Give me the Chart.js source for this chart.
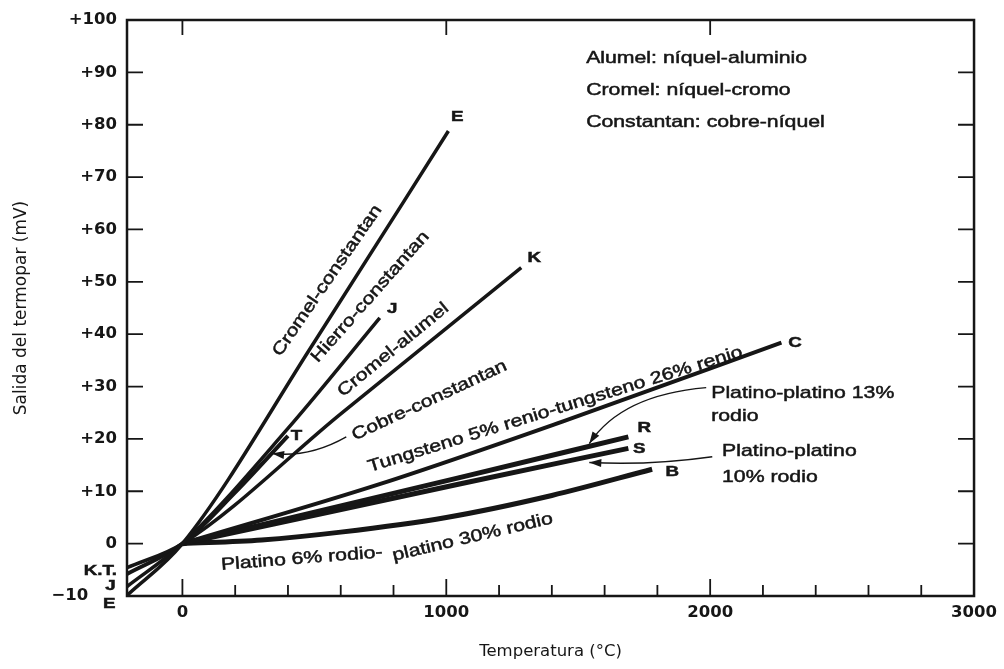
<!DOCTYPE html>
<html>
<head>
<meta charset="utf-8">
<title>Salida de termopares</title>
<script src="https://cdn.jsdelivr.net/npm/chart.js@4.4.1/dist/chart.umd.min.js"></script>
<style>
  html, body { margin: 0; padding: 0; background: #fff; }
  #box { width: 1004px; height: 669px; }
</style>
</head>
<body>
<div id="box"><canvas id="termoparChart" width="1004" height="669"></canvas></div>
<script>
// temperature (°C) and output (mV), one pair per thermocouple
const tempE = [-210, 0, 500, 1008];
const mvE   = [-9.9, 0, 38.5, 78.8];
const tempJ = [-210, 0, 400, 748];
const mvJ   = [-8.2, 0, 22.0, 43.1];
const tempK = [-210, 0, 600, 1284];
const mvK   = [-4.6, 0, 24.8, 52.7];
const tempT = [-210, 0, 200, 400];
const mvT   = [-5.8, 0, 9.8, 20.6];
const tempC = [0, 750, 1440, 2270];
const mvC   = [0, 11.4, 23.3, 38.4];
const tempR = [0, 1050, 1690];
const mvR   = [0, 12.6, 20.4];
const tempS = [0, 1050, 1690];
const mvS   = [0, 11.4, 18.2];
const tempB = [0, 300, 600, 1000, 1400, 1780];
const mvB   = [0, 0.7, 2.2, 5.0, 9.2, 14.2];

const xLabelTicks = [0, 1000, 2000, 3000];

const ink = '#161616';
const stretch = 1.25;   // the book's typeface is wider than Arial
const plainFont = "17px 'Liberation Sans', Arial, sans-serif";
const boldFont = "bold 15px 'Liberation Sans', Arial, sans-serif";

// text on the plot, placed in data units
const notes = [
    { text: 'E', x: 1042, y: 81.5, bold: true },
    { text: 'J', x: 795, y: 44.8, bold: true },
    { text: 'K', x: 1333, y: 54.6, bold: true },
    { text: 'C', x: 2322, y: 38.4, bold: true },
    { text: 'T', x: 432, y: 20.6, bold: true },
    { text: 'R', x: 1750, y: 22.1, bold: true },
    { text: 'S', x: 1731, y: 18.1, bold: true },
    { text: 'B', x: 1856, y: 13.7, bold: true },
    { text: 'K.T.', x: -311, y: -5.2, bold: true },
    { text: 'J', x: -273, y: -8.0, bold: true },
    { text: 'E', x: -277, y: -11.5, bold: true },
    { text: 'Cromel-constantan', x: 549, y: 50.2, angle: -55.4 },
    { text: 'Hierro-constantan', x: 712, y: 47.1, angle: -48.5 },
    { text: 'Cromel-alumel', x: 799, y: 37.0, angle: -39.3 },
    { text: 'Cobre-constantan', x: 936, y: 27.3, angle: -24.9 },
    { text: 'Tungsteno 5% renio-tungsteno 26% renio', x: 1413, y: 25.6, angle: -17.2 },
    { text: 'Platino 6% rodio-', x: 452, y: -2.9, angle: -4.5 },
    { text: 'platino 30% rodio', x: 1100, y: 1.2, angle: -13.3 },
    { text: 'Alumel: níquel-aluminio', x: 1530, y: 92.7, align: 'left' },
    { text: 'Cromel: níquel-cromo', x: 1530, y: 86.6, align: 'left' },
    { text: 'Constantan: cobre-níquel', x: 1530, y: 80.5, align: 'left' },
    { text: 'Platino-platino 13%', x: 2004, y: 28.8, align: 'left' },
    { text: 'rodio', x: 2004, y: 24.4, align: 'left' },
    { text: 'Platino-platino', x: 2045, y: 17.6, align: 'left' },
    { text: '10% rodio', x: 2045, y: 12.6, align: 'left' }
];

// leader arrows: start, control, tip (data units)
const leaders = [
    [[621, 20.4], [481, 16.4], [340, 17.2]],
    [[1985, 29.8], [1663, 28.4], [1542, 19.1]],
    [[2008, 16.6], [1769, 14.9], [1542, 15.5]]
];

function pts(xs, ys) {
    return xs.map((v, i) => ({ x: v, y: ys[i] }));
}

function curve(data, width) {
    return {
        data: data,
        borderColor: ink,
        borderWidth: width,
        pointRadius: 0,
        cubicInterpolationMode: 'monotone',
        borderCapStyle: 'butt'
    };
}

function drawText(ctx, text, px, py, angle, font, align) {
    ctx.save();
    ctx.translate(px, py);
    ctx.rotate(angle * Math.PI / 180);
    ctx.scale(stretch, 1);
    ctx.font = font;
    ctx.textAlign = align || 'center';
    ctx.textBaseline = 'middle';
    ctx.lineWidth = 0.5;
    ctx.fillText(text, 0, 0);
    ctx.strokeText(text, 0, 0);
    ctx.restore();
}

const decor = {
    id: 'decor',
    afterDatasetsDraw(chart) {
        const { ctx, chartArea: a, scales: { x, y } } = chart;
        ctx.save();
        ctx.strokeStyle = ink;
        ctx.fillStyle = ink;

        // frame
        ctx.lineWidth = 2.5;
        ctx.strokeRect(a.left, a.top, a.right - a.left, a.bottom - a.top);

        // tick marks pointing inwards
        ctx.lineWidth = 1.8;
        ctx.beginPath();
        for (let v = 0; v < 100; v += 10) {
            const py = y.getPixelForValue(v);
            ctx.moveTo(a.left, py); ctx.lineTo(a.left + 16, py);
            ctx.moveTo(a.right, py); ctx.lineTo(a.right - 16, py);
        }
        for (let v = 0; v < 3000; v += 200) {
            const px = x.getPixelForValue(v);
            const len = v % 1000 === 0 ? 17 : 11;
            ctx.moveTo(px, a.bottom); ctx.lineTo(px, a.bottom - len);
        }
        [0, 1000, 2000].forEach(v => {
            const px = x.getPixelForValue(v);
            ctx.moveTo(px, a.top); ctx.lineTo(px, a.top + 15);
        });
        ctx.stroke();

        notes.forEach(n => {
            drawText(ctx, n.text, x.getPixelForValue(n.x), y.getPixelForValue(n.y),
                n.angle || 0, n.bold ? boldFont : plainFont, n.align);
        });

        // curved leaders with arrow heads
        ctx.lineWidth = 1.4;
        leaders.forEach(l => {
            const p = l.map(q => [x.getPixelForValue(q[0]), y.getPixelForValue(q[1])]);
            ctx.beginPath();
            ctx.moveTo(p[0][0], p[0][1]);
            ctx.quadraticCurveTo(p[1][0], p[1][1], p[2][0], p[2][1]);
            ctx.stroke();
            const ang = Math.atan2(p[2][1] - p[1][1], p[2][0] - p[1][0]);
            const c = Math.cos(ang), s = Math.sin(ang);
            ctx.beginPath();
            ctx.moveTo(p[2][0], p[2][1]);
            ctx.lineTo(p[2][0] - 12 * c + 4 * s, p[2][1] - 12 * s - 4 * c);
            ctx.lineTo(p[2][0] - 12 * c - 4 * s, p[2][1] - 12 * s + 4 * c);
            ctx.closePath();
            ctx.fill();
        });
        ctx.restore();
    }
};

const ctx = document.getElementById('termoparChart').getContext('2d');

new Chart(ctx, {
    type: 'line',
    data: {
        datasets: [
            curve(pts(tempE, mvE), 3.5),
            curve(pts(tempJ, mvJ), 3.5),
            curve(pts(tempK, mvK), 3.5),
            curve(pts(tempT, mvT), 4),
            curve(pts(tempC, mvC), 4),
            curve(pts(tempR, mvR), 5),
            curve(pts(tempS, mvS), 5),
            curve(pts(tempB, mvB), 5)
        ]
    },
    options: {
        responsive: false,
        animation: false,
        layout: {
            padding: { top: 20, right: 29, left: 0, bottom: 0 }
        },
        plugins: {
            legend: { display: false },
            tooltip: { enabled: false }
        },
        scales: {
            x: {
                type: 'linear',
                min: -210,
                max: 3000,
                grid: { display: false, drawTicks: false },
                border: { display: false },
                afterFit: function (scale) { scale.height = 73; },
                afterBuildTicks: function (scale) {
                    scale.ticks = xLabelTicks.map(v => ({ value: v }));
                },
                ticks: {
                    autoSkip: false,
                    maxRotation: 0,
                    padding: 7,
                    color: ink,
                    font: { family: 'DejaVu Sans', size: 16.5, weight: 'bold' },
                    callback: function (value) { return String(value); }
                },
                title: {
                    display: true,
                    text: 'Temperatura (°C)',
                    color: ink,
                    font: { family: 'DejaVu Sans', size: 16.5 },
                    padding: { top: 0, bottom: 7 }
                }
            },
            y: {
                min: -10,
                max: 100,
                grid: { display: false, drawTicks: false },
                border: { display: false },
                afterFit: function (scale) { scale.width = 127; },
                ticks: {
                    stepSize: 10,
                    padding: 10,
                    color: ink,
                    font: { family: 'DejaVu Sans', size: 16.5, weight: 'bold' },
                    callback: function (value) {
                        if (value > 0) return '+' + value;
                        if (value < 0) return '\u2212' + Math.abs(value) + '     ';
                        return '0';
                    }
                },
                title: {
                    display: true,
                    text: 'Salida del termopar (mV)',
                    color: ink,
                    font: { family: 'DejaVu Sans', size: 17 },
                    padding: { top: 11, bottom: 0 }
                }
            }
        }
    },
    plugins: [decor]
});
</script>
</body>
</html>
